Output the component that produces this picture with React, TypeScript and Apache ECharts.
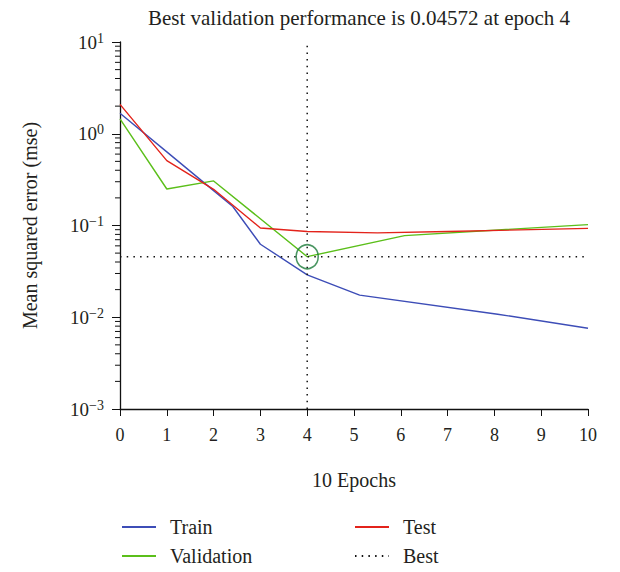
import React, { useEffect, useRef } from "react";
import * as echarts from "echarts";

const trainData: [number, number][] = [
  [0, 1.67], [1, 0.635], [2, 0.24], [2.41, 0.161], [3, 0.0625], [4, 0.029],
  [5.12, 0.0174], [8.07, 0.0108], [10, 0.0076],
];
const validationData: [number, number][] = [
  [0, 1.45], [1, 0.25], [2, 0.306], [4, 0.04572], [6.08, 0.0776], [10, 0.1023],
];
const testData: [number, number][] = [
  [0, 2.09], [1, 0.51], [2, 0.248], [3, 0.094], [4, 0.086], [5.5, 0.083],
  [7, 0.086], [10, 0.093],
];
const bestEpoch = 4;
const bestValue = 0.04572;
const xMin = 0;
const xMax = 10;
const yMin = 0.001;
const yMax = 10;
const minorTickValues: number[] = [];
for (let e = -3; e < 1; e++) {
  for (let m = 2; m <= 9; m++) minorTickValues.push(m * Math.pow(10, e));
}

const FONT = "'Liberation Serif', 'DejaVu Serif', serif";
const TXT = "#231f20";

export default function App() {
  const ref = useRef<HTMLDivElement>(null);
  useEffect(() => {
    if (!ref.current) return;
    const chart = echarts.init(ref.current, undefined, { renderer: "svg" });
    const supers = (v: number) => {
      const e = Math.round(Math.log10(v));
      return "{b|10}{s|" + String(e).replace("-", "\u2212") + "}";
    };
    const legendCommon = {
      orient: "vertical",
      top: 516,
      padding: 0,
      itemWidth: 34,
      itemHeight: 14,
      itemGap: 7,
      itemStyle: { color: "rgba(0,0,0,0)", borderWidth: 0 },
      lineStyle: { width: 2 },
      textStyle: { fontFamily: FONT, fontSize: 20, color: TXT, lineHeight: 22, padding: [0, 0, 0, 9] },
    };
    chart.setOption({
      animation: false,
      backgroundColor: "#fff",
      textStyle: { fontFamily: FONT, color: TXT },
      title: {
        text: "Best validation performance is " + bestValue + " at epoch " + bestEpoch,
        left: 354,
        top: 2,
        textAlign: "center",
        textStyle: { fontFamily: FONT, fontSize: 21, fontWeight: "normal", color: TXT },
      },
      grid: { left: 120, right: 32, top: 42, bottom: 163 },
      xAxis: {
        type: "value",
        min: xMin,
        max: xMax,
        interval: 1,
        name: "10 Epochs",
        nameLocation: "middle",
        nameGap: 61,
        nameTextStyle: { fontFamily: FONT, fontSize: 20, color: TXT },
        axisLine: { lineStyle: { color: "#111", width: 1.3 } },
        axisTick: { show: true, length: 7, lineStyle: { color: "#111" } },
        axisLabel: { fontFamily: FONT, fontSize: 18, color: TXT, margin: 17 },
        splitLine: { show: false },
      },
      yAxis: {
        type: "log",
        logBase: 10,
        min: yMin,
        max: yMax,
        interval: 1,
        name: "Mean squared error (mse)",
        nameLocation: "middle",
        nameGap: 80,
        nameTextStyle: { fontFamily: FONT, fontSize: 20, color: TXT },
        axisLine: { show: true, lineStyle: { color: "#111", width: 1.3 } },
        axisTick: { show: true, length: 8, lineStyle: { color: "#111" } },
        axisLabel: {
          margin: 16,
          formatter: (v: number) => supers(v),
          rich: {
            b: { fontFamily: FONT, fontSize: 19, color: TXT, lineHeight: 22 },
            s: { fontFamily: FONT, fontSize: 14, color: TXT, verticalAlign: "top", lineHeight: 14 },
          },
        },
        splitLine: { show: false },
      },
      legend: [
        { ...legendCommon, data: ["Train", "Validation"], left: 121 },
        { ...legendCommon, data: ["Test", "Best"], left: 354 },
      ],
      series: [
        {
          name: "Train",
          type: "line",
          data: trainData,
          symbol: "none",
          lineStyle: { color: "#3d4db7", width: 1.4 },
          itemStyle: { color: "#3d4db7" },
        },
        {
          name: "Validation",
          type: "line",
          data: validationData,
          symbol: "none",
          lineStyle: { color: "#5bbf1a", width: 1.4 },
          itemStyle: { color: "#5bbf1a" },
        },
        {
          name: "Test",
          type: "line",
          data: testData,
          symbol: "none",
          lineStyle: { color: "#e3231b", width: 1.4 },
          itemStyle: { color: "#e3231b" },
        },
        {
          name: "Best",
          type: "line",
          data: [[xMin, bestValue], [xMax, bestValue]],
          symbol: "none",
          lineStyle: { color: "#111", width: 1.5, type: [1.5, 5.2] },
          itemStyle: { color: "#111" },
        },
        {
          name: "Best",
          type: "line",
          data: [[bestEpoch, yMin], [bestEpoch, yMax]],
          symbol: "none",
          lineStyle: { color: "#111", width: 1.5, type: [1.5, 5.2] },
          itemStyle: { color: "#111" },
        },
        {
          name: "BestPoint",
          type: "scatter",
          data: [[bestEpoch, bestValue]],
          symbol: "circle",
          symbolSize: [22, 24],
          itemStyle: { color: "rgba(0,0,0,0)", borderColor: "#1b7a3a", borderWidth: 1.6 },
          z: 5,
        },
        {
          name: "minorTicks",
          type: "custom",
          clip: false,
          silent: true,
          data: minorTickValues.map((v) => [xMin, v]),
          renderItem: (params: any, api: any) => {
            const p = api.coord([api.value(0), api.value(1)]);
            return {
              type: "line",
              shape: { x1: p[0] - 5, y1: p[1], x2: p[0], y2: p[1] },
              style: { stroke: "#111", lineWidth: 1 },
            };
          },
        },
      ],
    });
    return () => chart.dispose();
  }, []);
  return (
    <div
      ref={ref}
      style={{ position: "fixed", left: 0, top: 0, width: 620, height: 572 }}
    />
  );
}
